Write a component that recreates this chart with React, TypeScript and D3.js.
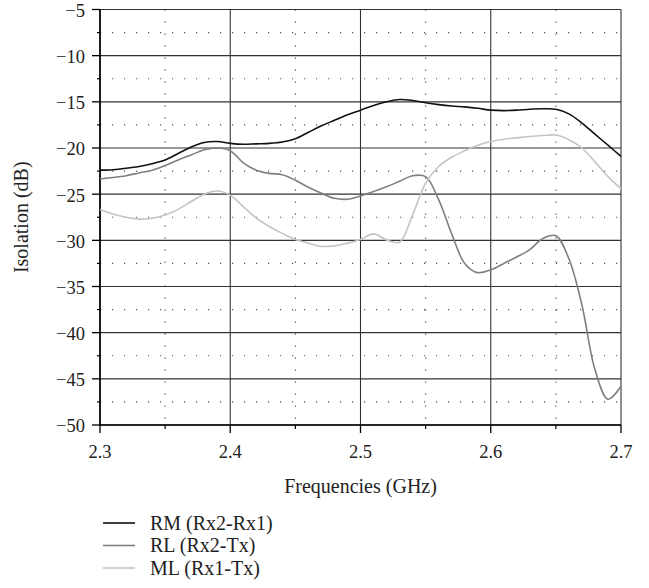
import * as d3 from 'd3';

// frequencies in GHz, sampled every 10 MHz
const frequencies = [
  2.3, 2.31, 2.32, 2.33, 2.34, 2.35, 2.36, 2.37, 2.38, 2.39,
  2.4, 2.41, 2.42, 2.43, 2.44, 2.45, 2.46, 2.47, 2.48, 2.49,
  2.5, 2.51, 2.52, 2.53, 2.54, 2.55, 2.56, 2.57, 2.58, 2.59,
  2.6, 2.61, 2.62, 2.63, 2.64, 2.65, 2.66, 2.67, 2.68, 2.69, 2.7,
];

const rmValues = [
  -22.4, -22.35, -22.2, -22.0, -21.7, -21.3, -20.6, -19.9, -19.4, -19.3,
  -19.5, -19.6, -19.55, -19.5, -19.35, -19.0, -18.3, -17.6, -17.0, -16.4,
  -15.9, -15.4, -15.0, -14.75, -14.85, -15.1, -15.3, -15.45, -15.55, -15.7,
  -15.9, -15.95, -15.9, -15.8, -15.75, -15.8, -16.3, -17.3, -18.5, -19.7, -20.9,
];

const rlValues = [
  -23.35, -23.2, -23.0, -22.7, -22.4, -21.9, -21.3, -20.75, -20.2, -20.0,
  -20.3, -21.6, -22.4, -22.75, -22.9, -23.5, -24.25, -24.9, -25.45, -25.55,
  -25.2, -24.7, -24.2, -23.6, -23.0, -23.1, -25.6, -29.3, -32.5, -33.5,
  -33.2, -32.5, -31.8, -31.0, -29.8, -29.5, -32.0, -37.0, -44.0, -47.2, -45.8,
];

const mlValues = [
  -26.65, -27.15, -27.5, -27.7, -27.6, -27.25, -26.65, -25.8, -25.0, -24.65,
  -25.1, -26.35, -27.6, -28.5, -29.25, -29.9, -30.3, -30.65, -30.6, -30.3,
  -29.9, -29.3, -29.95, -30.2, -27.25, -23.8, -22.0, -21.0, -20.3, -19.7,
  -19.3, -19.05, -18.9, -18.75, -18.65, -18.6, -19.1, -20.0, -21.5, -23.1, -24.4,
];

const seriesNames = ['RM (Rx2-Rx1)', 'RL (Rx2-Tx)', 'ML (Rx1-Tx)'];
const seriesColors = ['#111111', '#7f7f7f', '#c4c4c4'];
const seriesValues = [rmValues, rlValues, mlValues];

const xTicks = [2.3, 2.4, 2.5, 2.6, 2.7];
const xMinor = [2.35, 2.45, 2.55, 2.65];
const yTicks = [-5, -10, -15, -20, -25, -30, -35, -40, -45, -50];
const yMinor = [-7.5, -12.5, -17.5, -22.5, -27.5, -32.5, -37.5, -42.5, -47.5];

const W = 649;
const H = 588;
const FONT = '"Liberation Serif", "Times New Roman", serif';
const FS = 20;
const TICK_FS = 18.5;

export default function App() {
  const x = d3.scaleLinear().domain([2.3, 2.7]).range([100, 621]);
  const y = d3.scaleLinear().domain([-50, -5]).range([425, 9.5]);

  const line = d3
    .line<[number, number]>()
    .x((d) => x(d[0]))
    .y((d) => y(d[1]))
    .curve(d3.curveCatmullRom.alpha(0.5));

  const fmtY = (v: number) => (v < 0 ? '\u2212' + Math.abs(v) : String(v));

  return (
    <svg width={W} height={H} style={{ position: 'absolute', left: 0, top: 0, background: '#fff' }}>
      {/* dotted minor grid */}
      {yMinor.map((v) => (
        <line key={'ym' + v} x1={x(2.3)} x2={x(2.7)} y1={y(v)} y2={y(v)}
          stroke="#555" strokeWidth={1.2} strokeDasharray="1.2 10.8" />
      ))}
      {xMinor.map((v) => (
        <line key={'xm' + v} x1={x(v)} x2={x(v)} y1={y(-5)} y2={y(-50)}
          stroke="#555" strokeWidth={1.2} strokeDasharray="1.2 10.8" />
      ))}
      {/* solid major grid */}
      {yTicks.map((v) => (
        <line key={'yg' + v} x1={x(2.3)} x2={x(2.7)} y1={y(v)} y2={y(v)} stroke="#333" strokeWidth={1.1} />
      ))}
      {xTicks.map((v) => (
        <line key={'xg' + v} x1={x(v)} x2={x(v)} y1={y(-5)} y2={y(-50)} stroke="#333" strokeWidth={1.1} />
      ))}
      {/* axes frame */}
      <line x1={x(2.3)} x2={x(2.3)} y1={y(-5)} y2={y(-50)} stroke="#000" strokeWidth={1.6} />
      <line x1={x(2.3)} x2={x(2.7)} y1={y(-50)} y2={y(-50)} stroke="#000" strokeWidth={1.6} />
      {/* ticks */}
      {yTicks.map((v) => (
        <line key={'yt' + v} x1={x(2.3) - 8} x2={x(2.3)} y1={y(v)} y2={y(v)} stroke="#000" strokeWidth={1.3} />
      ))}
      {yMinor.map((v) => (
        <line key={'ymt' + v} x1={x(2.3) - 3} x2={x(2.3)} y1={y(v)} y2={y(v)} stroke="#000" strokeWidth={1.2} />
      ))}
      {xTicks.map((v) => (
        <line key={'xt' + v} x1={x(v)} x2={x(v)} y1={y(-50)} y2={y(-50) + 8} stroke="#000" strokeWidth={1.3} />
      ))}
      {xMinor.map((v) => (
        <line key={'xmt' + v} x1={x(v)} x2={x(v)} y1={y(-50)} y2={y(-50) + 4} stroke="#000" strokeWidth={1.2} />
      ))}
      {/* tick labels */}
      {yTicks.map((v) => (
        <text key={'yl' + v} x={85} y={y(v)} dy="0.4em" textAnchor="end"
          fontFamily={FONT} fontSize={TICK_FS} fill="#222">{fmtY(v)}</text>
      ))}
      {xTicks.map((v) => (
        <text key={'xl' + v} x={x(v)} y={458} textAnchor="middle"
          fontFamily={FONT} fontSize={TICK_FS} fill="#222">{v.toFixed(1)}</text>
      ))}
      {/* axis titles */}
      <text x={x(2.5)} y={493} textAnchor="middle" fontFamily={FONT} fontSize={FS} fill="#222">
        Frequencies (GHz)
      </text>
      <text transform={`translate(28, ${y(-27.5)}) rotate(-90)`} textAnchor="middle"
        fontFamily={FONT} fontSize={FS} fill="#222">
        Isolation (dB)
      </text>
      {/* series */}
      {seriesValues.map((vals, i) => (
        <path key={seriesNames[i]}
          d={line(frequencies.map((f, j) => [f, vals[j]] as [number, number])) ?? ''}
          fill="none" stroke={seriesColors[i]} strokeWidth={1.6} />
      ))}
      {/* legend */}
      {seriesNames.map((name, i) => (
        <g key={'lg' + name} transform={`translate(103, ${523 + i * 22.5})`}>
          <line x1={0} x2={32} y1={0} y2={0} stroke={seriesColors[i]} strokeWidth={1.6} />
          <text x={47} y={0} dy="0.33em" fontFamily={FONT} fontSize={FS} fill="#222">{name}</text>
        </g>
      ))}
    </svg>
  );
}
